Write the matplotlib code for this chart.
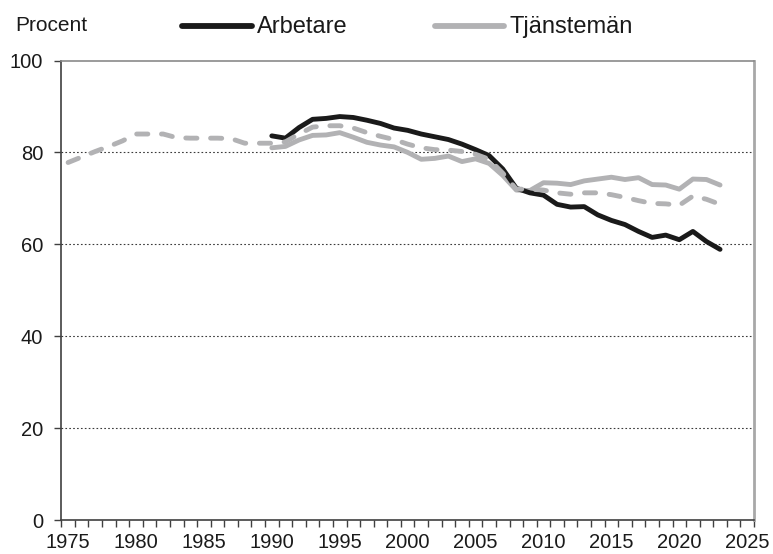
import matplotlib
matplotlib.use("Agg")
import matplotlib.pyplot as plt
from matplotlib.lines import Line2D
from matplotlib.ticker import FixedLocator, NullFormatter

plt.rcParams['font.family'] = ['Liberation Sans', 'DejaVu Sans']

# ---- data ----
years_arb = list(range(1990, 2024))
arbetare = [83.6, 83.1, 85.4, 87.2, 87.4, 87.8, 87.6, 87.0, 86.3, 85.3,
            84.8, 84.0, 83.4, 82.8, 81.8, 80.6, 79.3, 76.4, 72.2, 71.2,
            70.7, 68.7, 68.1, 68.2, 66.4, 65.2, 64.3, 62.8, 61.5, 62.0,
            61.0, 62.8, 60.6, 58.9]

years_tj = list(range(1990, 2024))
tjansteman = [81.0, 81.3, 82.7, 83.7, 83.8, 84.3, 83.3, 82.2, 81.6, 81.2,
              80.0, 78.5, 78.7, 79.2, 78.0, 78.6, 77.6, 75.0, 71.8, 71.7,
              73.4, 73.3, 73.0, 73.8, 74.2, 74.6, 74.1, 74.5, 73.0, 72.9,
              72.0, 74.2, 74.1, 72.9]

years_all = list(range(1975, 2024))
samtliga = [77.8, 79.0, 80.2, 81.3, 82.5, 84.0, 84.0, 84.0, 83.2, 83.1,
            83.1, 83.1, 83.0, 82.0, 82.0, 82.0, 82.3, 84.0, 85.5, 85.8,
            85.8, 85.3, 84.3, 83.5, 82.8, 81.8, 81.0, 80.6, 80.5, 80.2,
            79.6, 78.5, 75.5, 72.0, 72.0, 71.8, 71.2, 70.9, 71.2, 71.2,
            70.8, 70.2, 69.5, 68.9, 68.8, 68.5, 70.5, 69.8, 68.7]

label_arb = "Arbetare"
label_tj = "Tjänstemän"
y_label = "Procent"
xtick_years = [1975, 1980, 1985, 1990, 1995, 2000, 2005, 2010, 2015, 2020, 2025]
yticks = [0, 20, 40, 60, 80, 100]

# ---- figure ----
W, H = 773, 554
fig = plt.figure(figsize=(W / 100, H / 100), dpi=100)
ax = fig.add_axes([61.3 / W, 1 - 520 / H, (754 - 61.3) / W, (520 - 60.5) / H])

black = '#1a1a1a'
gray = '#b2b2b4'
lw = 3.5

ax.plot(years_tj, tjansteman, color=gray, lw=lw, solid_capstyle='round',
        solid_joinstyle='round', zorder=3)
ax.plot(years_arb, arbetare, color=black, lw=lw, solid_capstyle='round',
        solid_joinstyle='round', zorder=4)
ax.plot(years_all, samtliga, color=gray, lw=lw, linestyle=(0, (2.3, 2.8)),
        dash_capstyle='round', dash_joinstyle='round', zorder=5)

ax.set_xlim(1974.5, 2025.5)
ax.set_ylim(0, 100)

# x axis: tick marks at category boundaries, labels at category centres
ax.xaxis.set_major_locator(FixedLocator(xtick_years))
ax.set_xticklabels([str(y) for y in xtick_years])
ax.xaxis.set_minor_locator(FixedLocator([1974.5 + i for i in range(52)]))
ax.xaxis.set_minor_formatter(NullFormatter())
ax.tick_params(axis='x', which='major', length=0, pad=9.5, labelsize=14.5, colors='#1a1a1a')
ax.tick_params(axis='x', which='minor', length=5, width=1.0, direction='out', color='#404040')

ax.set_yticks(yticks)
ax.tick_params(axis='y', which='major', length=5, width=1.0, direction='out',
               color='#404040', labelsize=14.5, pad=8, labelcolor='#1a1a1a')

for y in yticks[1:-1]:
    ax.axhline(y, color='#3a3a3a', lw=0.8, linestyle=(0, (1.5, 2.0)), zorder=1)

ax.spines['left'].set_color('#404040')
ax.spines['left'].set_linewidth(1.2)
ax.spines['bottom'].set_color('#404040')
ax.spines['bottom'].set_linewidth(1.2)
ax.spines['top'].set_color('#8a8a8a')
ax.spines['top'].set_linewidth(1.2)
ax.spines['right'].set_color('#a8a8a8')
ax.spines['right'].set_linewidth(2.0)

fig.text(15 / W, 1 - 31 / H, y_label, fontsize=15, va='baseline', ha='left', color='#1a1a1a')

# legend drawn in figure pixel coordinates
def fx(px):
    return px / W

def fy(py):
    return 1 - py / H

for (x0, x1, col, tx, lab) in [(182, 252, black, 257, label_arb),
                               (435, 504, gray, 510, label_tj)]:
    fig.add_artist(Line2D([fx(x0), fx(x1)], [fy(25.7), fy(25.7)], color=col,
                          lw=4.2, solid_capstyle='round', transform=fig.transFigure))
    fig.text(fx(tx), fy(33.3), lab, fontsize=17, va='baseline', ha='left', color='#1a1a1a')

fig.savefig('out.png', dpi=100, facecolor='white')
